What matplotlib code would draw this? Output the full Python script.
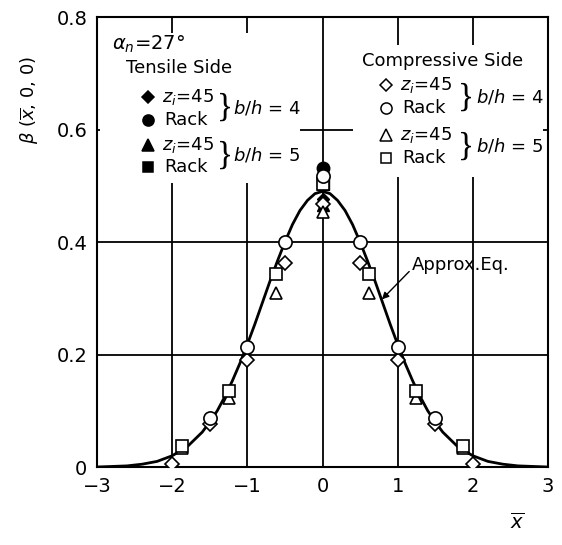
import numpy as np
import matplotlib
matplotlib.use("Agg")
import matplotlib.pyplot as plt
from matplotlib.patches import Rectangle

plt.rcParams["font.family"] = ["DejaVu Sans"]
plt.rcParams["mathtext.fontset"] = "dejavusans"

# approx. equation curve
curve_x = [-3.0, -2.8, -2.6, -2.4, -2.2, -2.0, -1.8, -1.6, -1.5, -1.4, -1.3, -1.2, -1.1, -1.0,
           -0.9, -0.8, -0.7, -0.6, -0.5, -0.4, -0.3, -0.2, -0.1,
           0.0, 0.1, 0.2, 0.3, 0.4, 0.5, 0.6, 0.7, 0.8, 0.9,
           1.0, 1.1, 1.2, 1.3, 1.4, 1.5, 1.6, 1.8, 2.0, 2.2, 2.4, 2.6, 2.8, 3.0]
curve_y = [0.000, 0.001, 0.002, 0.005, 0.010, 0.020, 0.036, 0.062, 0.080, 0.100, 0.125, 0.153, 0.184, 0.218,
           0.254, 0.292, 0.330, 0.366, 0.400, 0.431, 0.456, 0.474, 0.486,
           0.490, 0.486, 0.474, 0.456, 0.431, 0.400, 0.366, 0.330, 0.292, 0.254,
           0.218, 0.184, 0.153, 0.125, 0.100, 0.080, 0.062, 0.036, 0.020, 0.010, 0.005, 0.002, 0.001, 0.000]

# compressive side (open markers)
comp_z45_4_x = [-2.0, -1.5, -1.0, -0.5, 0.0, 0.5, 1.0, 1.5, 2.0]
comp_z45_4_y = [0.005, 0.076, 0.190, 0.362, 0.468, 0.362, 0.190, 0.076, 0.005]
comp_rack_4_x = [-1.5, -1.0, -0.5, 0.0, 0.5, 1.0, 1.5]
comp_rack_4_y = [0.087, 0.213, 0.400, 0.517, 0.400, 0.213, 0.087]
comp_z45_5_x = [-1.875, -1.25, -0.625, 0.0, 0.625, 1.25, 1.875]
comp_z45_5_y = [0.034, 0.123, 0.309, 0.453, 0.309, 0.123, 0.034]
comp_rack_5_x = [-1.875, -1.25, -0.625, 0.0, 0.625, 1.25, 1.875]
comp_rack_5_y = [0.038, 0.135, 0.344, 0.504, 0.344, 0.135, 0.038]

# tensile side (filled markers)
tens_z45_4 = 0.476
tens_rack_4 = 0.532
tens_z45_5 = 0.466
tens_rack_5 = 0.504

x_ticks = [-3, -2, -1, 0, 1, 2, 3]
x_labels = ["\u22123", "\u22122", "\u22121", "0", "1", "2", "3"]
y_ticks = [0, 0.2, 0.4, 0.6, 0.8]
y_labels = ["0", "0.2", "0.4", "0.6", "0.8"]

fig = plt.figure(figsize=(5.62, 5.45), dpi=100)
ax = fig.add_axes([0.1726, 0.1431, 0.8025, 0.8257])
ax.set_xlim(-3, 3)
ax.set_ylim(0, 0.8)

# grid
for xv in [-2, -1, 0, 1, 2]:
    ax.axvline(xv, color="black", lw=1.3, zorder=1)
for yv in [0.2, 0.4, 0.6]:
    ax.axhline(yv, color="black", lw=1.3, zorder=1)

# white areas behind the legend blocks
ax.add_patch(Rectangle((0.007, 0.631), 0.443, 0.333, transform=ax.transAxes,
                       facecolor="white", edgecolor="none", zorder=2))
ax.add_patch(Rectangle((0.568, 0.644), 0.421, 0.294, transform=ax.transAxes,
                       facecolor="white", edgecolor="none", zorder=2))

ax.plot(curve_x, curve_y, color="black", lw=2.0, zorder=3)

mk = dict(linestyle="none", markerfacecolor="white", markeredgecolor="black",
          markeredgewidth=1.2, zorder=4)
ax.plot(comp_z45_4_x, comp_z45_4_y, marker="D", markersize=7, **mk)
ax.plot(comp_z45_5_x, comp_z45_5_y, marker="^", markersize=9, **mk)
ax.plot(comp_rack_5_x, comp_rack_5_y, marker="s", markersize=8.5, **mk)
ax.plot(comp_rack_4_x, comp_rack_4_y, marker="o", markersize=9.5, **mk)

fk = dict(linestyle="none", color="black", zorder=3.5)
ax.plot([0], [tens_rack_5], marker="s", markersize=8, **fk)
ax.plot([0], [tens_rack_4], marker="o", markersize=9, **fk)
ax.plot([0], [tens_z45_4], marker="D", markersize=6.5, **fk)
ax.plot([0], [tens_z45_5], marker="^", markersize=8, **fk)

# legend blocks
fs = 13
ax.text(0.033, 0.94, r"$\alpha_n$=27°", transform=ax.transAxes, fontsize=fs + 1, va="center", zorder=5)
ax.text(0.064, 0.887, "Tensile Side", transform=ax.transAxes, fontsize=fs, va="center", zorder=5)
ax.text(0.588, 0.902, "Compressive Side", transform=ax.transAxes, fontsize=fs, va="center", zorder=5)

left_rows = [(0.822, "D", r"$z_i$=45", True), (0.771, "o", "Rack", True),
             (0.716, "^", r"$z_i$=45", True), (0.667, "s", "Rack", True)]
right_rows = [(0.849, "D", r"$z_i$=45", False), (0.798, "o", "Rack", False),
              (0.738, "^", r"$z_i$=45", False), (0.687, "s", "Rack", False)]
msizes = {"D": 6, "o": 8, "^": 8, "s": 7}
for rows, mx, tx in [(left_rows, 0.113, 0.144), (right_rows, 0.641, 0.672)]:
    for yy, m, lab, filled in rows:
        ax.plot([mx], [yy], marker=m, markersize=msizes[m], transform=ax.transAxes,
                color="black", markerfacecolor="black" if filled else "white",
                markeredgewidth=1.1, linestyle="none", zorder=5, clip_on=False)
        ax.text(tx if lab != "Rack" else tx + 0.005, yy, lab, transform=ax.transAxes,
                fontsize=fs, va="center", zorder=5)

for bx, tx, ys in [(0.284, 0.302, [(0.798, "4"), (0.693, "5")]),
                   (0.818, 0.84, [(0.822, "4"), (0.713, "5")])]:
    for yy, v in ys:
        ax.text(bx, yy, "}", transform=ax.transAxes, fontsize=24, va="center",
                ha="center", family="Liberation Serif", zorder=5)
        ax.text(tx, yy, r"$b/h$ = " + v, transform=ax.transAxes, fontsize=fs,
                va="center", zorder=5)

ax.annotate("Approx.Eq.", xy=(0.79, 0.298), xytext=(1.19, 0.359), fontsize=fs,
            va="center", ha="left", zorder=5,
            arrowprops=dict(arrowstyle="-|>", color="black", lw=1.0,
                            shrinkA=0, shrinkB=0, mutation_scale=10,
                            relpos=(0.0, 0.3)))

ax.set_xticks(x_ticks)
ax.set_xticklabels(x_labels, fontsize=14)
ax.set_yticks(y_ticks)
ax.set_yticklabels(y_labels, fontsize=14)
ax.tick_params(length=0, pad=7)
for sp in ax.spines.values():
    sp.set_linewidth(1.5)

ax.text(-0.149, 0.815, r"$\beta$ ($\overline{x}$, 0, 0)", transform=ax.transAxes,
        fontsize=13, rotation=90, ha="center", va="center")
ax.text(0.931, -0.122, r"$\overline{x}$", transform=ax.transAxes,
        fontsize=14, ha="center", va="center")

fig.savefig("out.png", dpi=100)
